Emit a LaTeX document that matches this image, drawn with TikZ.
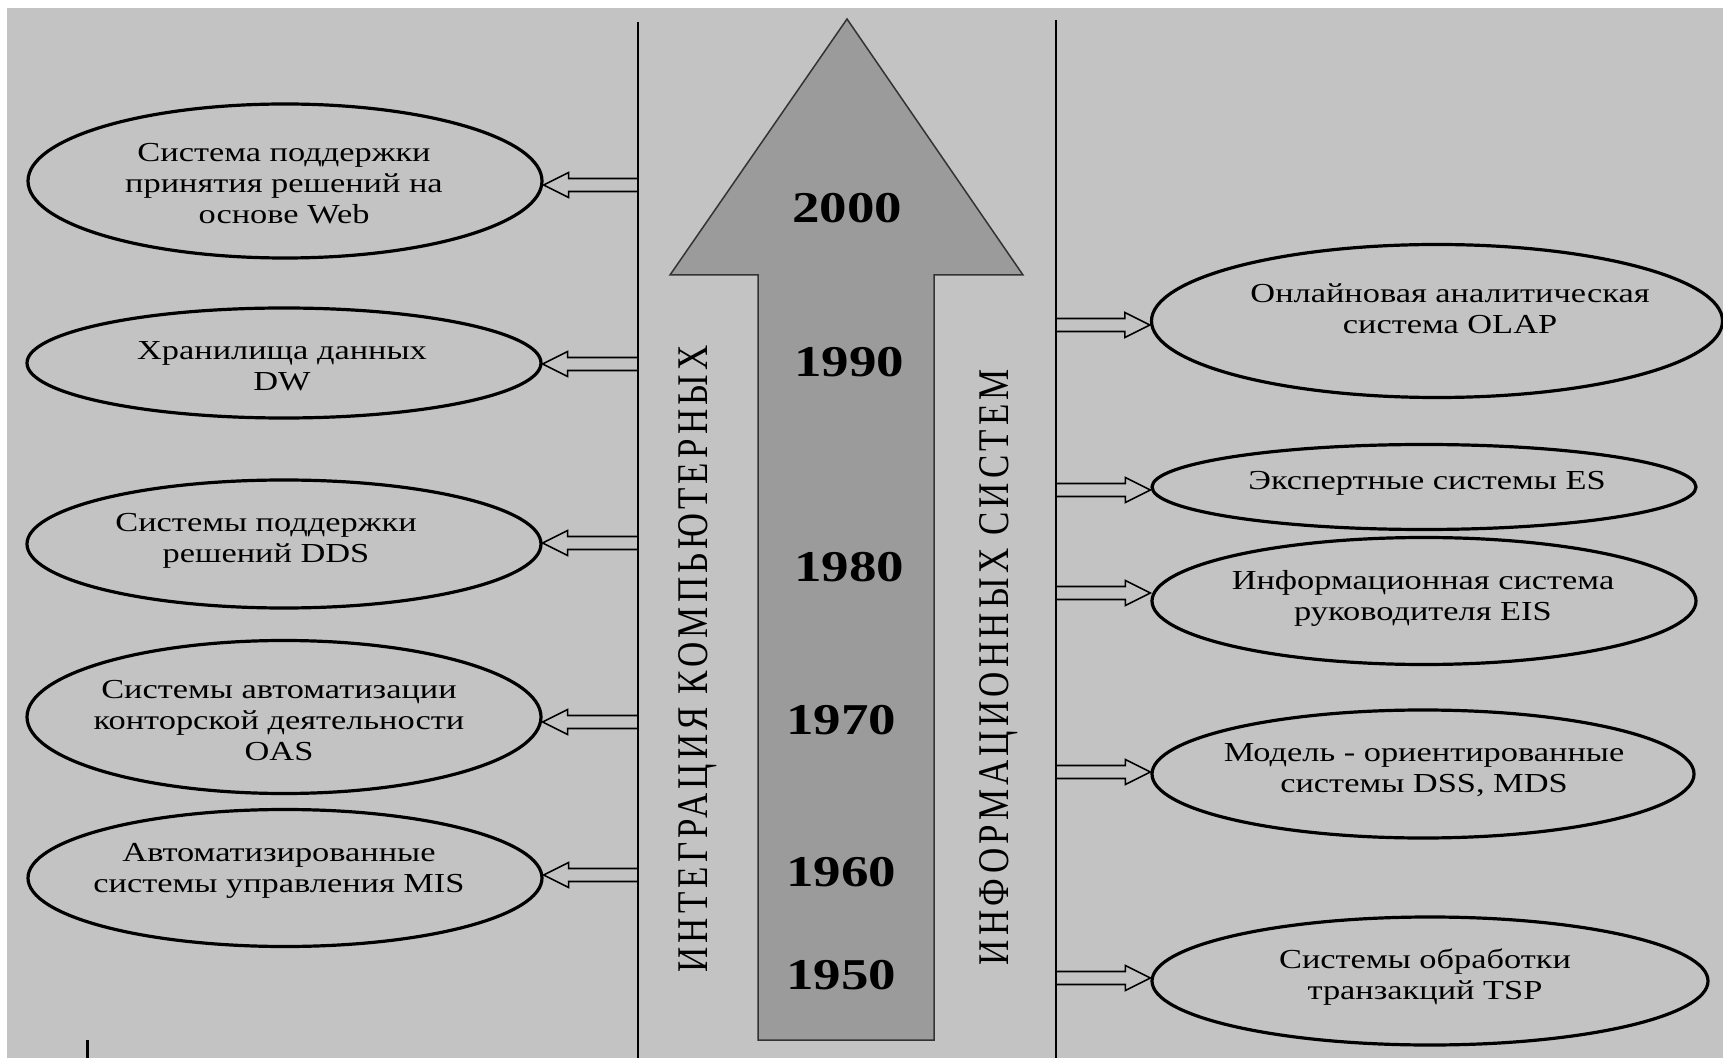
\documentclass[tikz,border=0pt]{standalone}
\usepackage{fontspec}
\setmainfont{Liberation Serif}[FakeStretch=1.25]
\newfontfamily\vertfont{Liberation Serif}[LetterSpace=12]
\usetikzlibrary{shapes.geometric,calc}
\definecolor{bg}{RGB}{195,195,195}
\definecolor{arrowfill}{RGB}{155,155,155}
\tikzset{
  ell/.style={ellipse, draw=black, line width=1.6pt, inner sep=0pt},
  etext/.style={align=center, font=\fontsize{13.75pt}{15.5pt}\selectfont, inner sep=0pt},
  yearlbl/.style={font=\fontsize{22pt}{24pt}\selectfont\bfseries, inner sep=0pt},
  vline/.style={line width=1pt, draw=black},
  arr/.style={line width=0.8pt, draw=black, line join=miter},
  vtext/.style={rotate=90, anchor=base, inner sep=0pt, font=\fontsize{17.5pt}{19pt}\vertfont},
}
\newcommand\arrowR[2]{%
  \draw[arr] let \p1=(#1), \p2=(#2) in
    (\x1,\y1+3.25pt) -- (\x2-12.5pt,\y1+3.25pt) -- (\x2-12.5pt,\y1+6.25pt) -- (\x2,\y1)
    -- (\x2-12.5pt,\y1-6.25pt) -- (\x2-12.5pt,\y1-3.25pt) -- (\x1,\y1-3.25pt);}
\newcommand\arrowL[2]{%
  \draw[arr] let \p1=(#1), \p2=(#2) in
    (\x1,\y1+3.25pt) -- (\x2+12.5pt,\y1+3.25pt) -- (\x2+12.5pt,\y1+6.25pt) -- (\x2,\y1)
    -- (\x2+12.5pt,\y1-6.25pt) -- (\x2+12.5pt,\y1-3.25pt) -- (\x1,\y1-3.25pt);}
\begin{document}
\begin{tikzpicture}[x=0.5pt,y=-0.5pt]
  \fill[white] (0,0) rectangle (1723,1058);
  \fill[bg] (7,8) rectangle (1723,1058);
  \useasboundingbox (0,0) rectangle (1723,1058);

  % vertical lines
  \coordinate (lt) at (638,22);
  \coordinate (lb) at (638,1058);
  \coordinate (rt) at (1056,20);
  \coordinate (rb) at (1056,1058);
  \draw[vline] (lt) -- (lb);
  \draw[vline] (rt) -- (rb);

  % big arrow
  \draw[fill=arrowfill, draw=black!80, line width=0.75pt, line join=miter]
    (847,19) -- (1023,275) -- (934,275) -- (934,1040) -- (758,1040) -- (758,275) -- (670,275) -- cycle;

  % years
  \node[yearlbl] (y2000) at (847,208) {2000};
  \node[yearlbl] (y1990) at (849,362) {1990};
  \node[yearlbl] (y1980) at (849,567) {1980};
  \node[yearlbl] (y1970) at (841,720) {1970};
  \node[yearlbl] (y1960) at (841,872) {1960};
  \node[yearlbl] (y1950) at (841,975) {1950};

  % vertical titles
  \node[vtext] (vt1) at (707,659) {\scalebox{1}[1.25]{ИНТЕГРАЦИЯ КОМПЬЮТЕРНЫХ}};
  \node[vtext] (vt2) at (1008,667) {\scalebox{1}[1.25]{ИНФОРМАЦИОННЫХ СИСТЕМ}};

  % left ellipses
  \node[ell, minimum width=257pt, minimum height=77pt]   (L1) at (285,181) {};
  \node[ell, minimum width=257pt, minimum height=55pt]   (L2) at (284,363) {};
  \node[ell, minimum width=257pt, minimum height=64pt]   (L3) at (284,544) {};
  \node[ell, minimum width=257pt, minimum height=76.5pt] (L4) at (284,717) {};
  \node[ell, minimum width=257pt, minimum height=68.5pt] (L5) at (285,878) {};
  \node[etext] (L1t) at (284,184) {Система поддержки\\принятия решений на\\основе Web};
  \node[etext] (L2t) at (282,366) {Хранилища данных\\DW};
  \node[etext] (L3t) at (266,541) {Системы поддержки\\решений DDS};
  \node[etext] (L4t) at (279,721) {Системы автоматизации\\конторской деятельности\\OAS};
  \node[etext] (L5t) at (279,871) {Автоматизированные\\системы управления MIS};

  % right ellipses
  \node[ell, minimum width=285.5pt, minimum height=76.5pt] (R1) at (1437,321) {};
  \node[ell, minimum width=272pt, minimum height=42.5pt]   (R2) at (1424,487) {};
  \node[ell, minimum width=272pt, minimum height=63.5pt]   (R3) at (1424,601) {};
  \node[ell, minimum width=271pt, minimum height=64pt]     (R4) at (1423,774) {};
  \node[ell, minimum width=278pt, minimum height=64pt]     (R5) at (1430,981) {};
  \node[etext] (R1t) at (1450,309) {Онлайновая аналитическая\\система OLAP};
  \node[etext] (R2t) at (1427,483) {Экспертные системы ES};
  \node[etext] (R3t) at (1423,598) {Информационная система\\руководителя EIS};
  \node[etext] (R4t) at (1424,770) {Модель - ориентированные\\системы DSS, MDS};
  \node[etext] (R5t) at (1425,977) {Системы обработки\\транзакций TSP};

  % arrow start points on the lines
  \coordinate (aL1) at (638,185);
  \coordinate (aL2) at (638,364);
  \coordinate (aL3) at (638,543);
  \coordinate (aL4) at (638,722);
  \coordinate (aL5) at (638,875);
  \coordinate (aR1) at (1056,325);
  \coordinate (aR2) at (1056,490);
  \coordinate (aR3) at (1056,593);
  \coordinate (aR4) at (1056,772);
  \coordinate (aR5) at (1056,978);

  \arrowL{aL1}{L1.east |- aL1}
  \arrowL{aL2}{L2.east |- aL2}
  \arrowL{aL3}{L3.east |- aL3}
  \arrowL{aL4}{L4.east |- aL4}
  \arrowL{aL5}{L5.east |- aL5}
  \arrowR{aR1}{R1.west |- aR1}
  \arrowR{aR2}{R2.west |- aR2}
  \arrowR{aR3}{R3.west |- aR3}
  \arrowR{aR4}{R4.west |- aR4}
  \arrowR{aR5}{R5.west |- aR5}

  % small tick at bottom left
  \coordinate (tk1) at (87,1040);
  \coordinate (tk2) at (87,1058);
  \draw[line width=1.5pt] (tk1) -- (tk2);
\end{tikzpicture}
\end{document}
